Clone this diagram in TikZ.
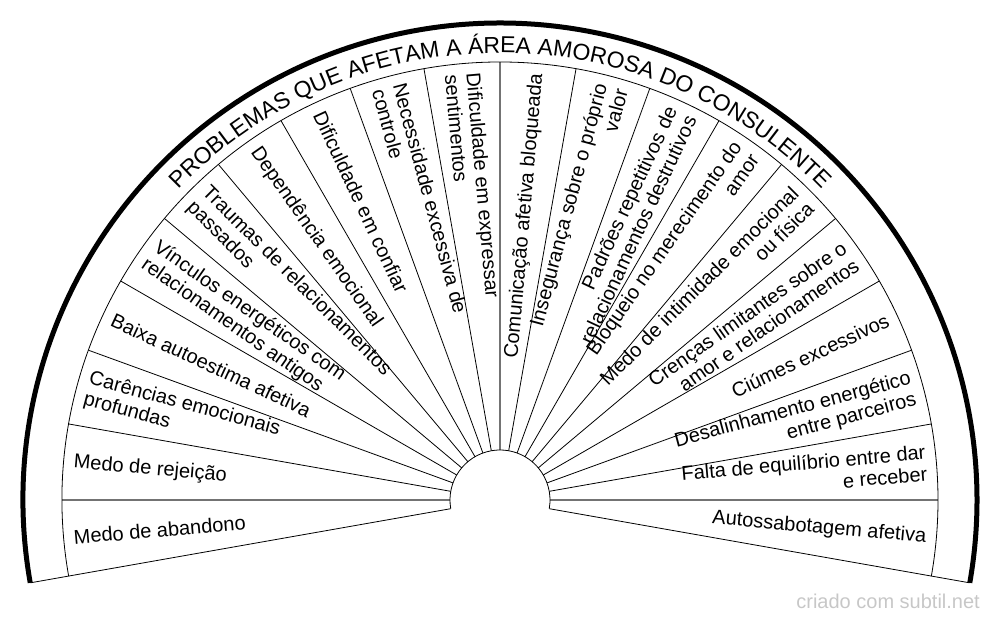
\documentclass[tikz,border=0pt]{standalone}
\usepackage{fontspec}
\setmainfont{Liberation Sans}
\usetikzlibrary{decorations.text}
\newfontfamily\titlefam{Liberation Sans}
\begin{document}
\begin{tikzpicture}[x=1pt,y=1pt,
  spoke/.style={line width=0.8pt, black},
  axisline/.style={line width=1.2pt, black!55},
  ring/.style={line width=0.8pt, black},
  rim/.style={line width=5pt, black},
  lbl/.style={inner sep=0pt, font=\fontsize{20}{21.5}\selectfont},
  lblL/.style={lbl, anchor=west, align=left},
  lblR/.style={lbl, anchor=east, align=right}]
\useasboundingbox (-500,-122) rectangle (500,500);
\coordinate (c) at (0,0);
% spokes
\foreach \a in {170,160,...,100,80,70,...,10}
  \draw[spoke] (\a:50pt) -- (\a:438pt);
\foreach \a in {180,90,0}
  \draw[axisline] (\a:50pt) -- (\a:438pt);
\draw[spoke] (190:50pt) -- (190:477pt);
\draw[spoke] (-10:50pt) -- (-10:477pt);
% arcs
\draw[ring] (190:50pt) arc[start angle=190, end angle=-10, radius=50pt];
\draw[ring] (190:438pt) arc[start angle=190, end angle=-10, radius=438pt];
\draw[rim] (190:477pt) arc[start angle=190, end angle=-10, radius=477pt];
% title
\path[decorate, decoration={text along path,
  text={|\titlefam\fontsize{23}{25}\selectfont|PROBLEMAS QUE AFETAM A ÁREA AMOROSA DO CONSULENTE},
  text align=center}]
  (180:447pt) arc[start angle=180, end angle=0, radius=447pt];
% left labels
\node[lblL, rotate=5]   (l1)  at (185:428pt) {Medo de abandono};
\node[lblL, rotate=-5]  (l2)  at (175:428pt) {Medo de rejeição};
\node[lblL, rotate=-15] (l3)  at (165:428pt) {Carências emocionais\\profundas};
\node[lblL, rotate=-25] (l4)  at (155:428pt) {Baixa autoestima afetiva};
\node[lblL, rotate=-35] (l5)  at (145:428pt) {Vínculos energéticos com\\relacionamentos antigos};
\node[lblL, rotate=-45] (l6)  at (135:428pt) {Traumas de relacionamentos\\passados};
\node[lblL, rotate=-55] (l7)  at (125:428pt) {Dependência emocional};
\node[lblL, rotate=-65] (l8)  at (115:428pt) {Dificuldade em confiar};
\node[lblL, rotate=-75] (l9)  at (105:428pt) {Necessidade excessiva de\\controle};
\node[lblL, rotate=-85] (l10) at (95:428pt)  {Dificuldade em expressar\\sentimentos};
% right labels
\node[lblR, rotate=85]  (r1)  at (85:428pt)  {Comunicação afetiva bloqueada};
\node[lblR, rotate=75]  (r2)  at (75:428pt)  {Insegurança sobre o próprio\\valor};
\node[lblR, rotate=65]  (r3)  at (65:428pt)  {Padrões repetitivos de\\relacionamentos destrutivos};
\node[lblR, rotate=55]  (r4)  at (55:428pt)  {Bloqueio no merecimento do\\amor};
\node[lblR, rotate=45]  (r5)  at (45:428pt)  {Medo de intimidade emocional\\ou física};
\node[lblR, rotate=35]  (r6)  at (35:428pt)  {Crenças limitantes sobre o\\amor e relacionamentos};
\node[lblR, rotate=25]  (r7)  at (25:428pt)  {Ciúmes excessivos};
\node[lblR, rotate=15]  (r8)  at (15:428pt)  {Desalinhamento energético\\entre parceiros};
\node[lblR, rotate=5]   (r9)  at (5:428pt)   {Falta de equilíbrio entre dar\\e receber};
\node[lblR, rotate=-5]  (r10) at (-5:428pt)  {Autossabotagem afetiva};
% watermark
\node[anchor=base east, inner sep=0pt, text=black!22,
  font=\fontsize{20}{24}\selectfont] (wm) at (480,-108) {criado com subtil.net};
\end{tikzpicture}
\end{document}
